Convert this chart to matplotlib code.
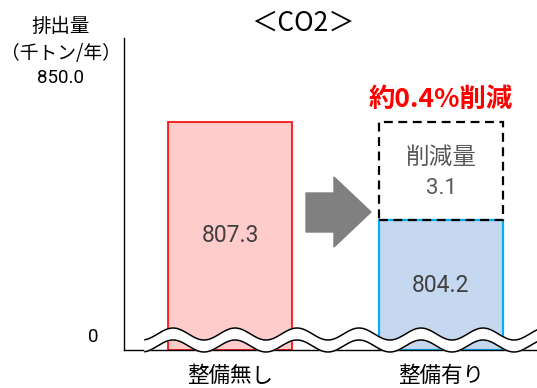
import numpy as np
import matplotlib
matplotlib.use('Agg')
import matplotlib.pyplot as plt
import matplotlib.transforms as mtransforms

plt.rcParams['font.family'] = ['Noto Sans CJK JP', 'DejaVu Sans']
NUM_FONT = ['Roboto', 'DejaVu Sans']

# Data
categories = ['整備無し', '整備有り']
emissions = [807.3, 804.2]
reduction = 3.1
reduction_label = '約0.4%削減'
y_top_label = 850.0

# Broken, schematic value axis (value -> screen units)
knot_vals = [0.0, 804.2, 807.3, 850.0, 888.8]
knot_pos = [0.0, 130.0, 228.0, 272.0, 312.0]


def fwd(v):
    return np.interp(v, knot_vals, knot_pos)


def inv(u):
    return np.interp(u, knot_pos, knot_vals)


def mid(lo, hi):
    return float(inv((fwd(lo) + fwd(hi)) / 2))


W, H = 537, 388
fig = plt.figure(figsize=(W / 100, H / 100), dpi=100)
ax = fig.add_axes([124 / W, 38 / H, 413 / W, 312 / H])
ax.set_yscale('function', functions=(fwd, inv))
ax.set_ylim(0, 888.8)
ax.set_xlim(-0.502, 1.455)

bw = 0.588
ax.bar(0, emissions[0], width=bw, color='#FFCCCC', edgecolor='#FF0000', linewidth=1.2, zorder=1)
ax.bar(1, emissions[1], width=bw, color='#C5D8EF', edgecolor='#00B0F0', linewidth=1.6, zorder=1)
ax.bar(1, reduction, bottom=emissions[1], width=bw, fill=False, edgecolor='black',
       linewidth=1.6, linestyle=(0, (4, 2.5)), zorder=2)

# value labels
ax.text(0, mid(0, emissions[0]), f'{emissions[0]:.1f}', ha='center', va='center',
        fontsize=16.5, color='#404040', family=NUM_FONT)
ax.text(1, mid(0, emissions[1]), f'{emissions[1]:.1f}', ha='center', va='center',
        fontsize=16.5, color='#404040', family=NUM_FONT)
m = mid(emissions[1], emissions[1] + reduction)
ax.annotate('削減量', xy=(1, m), xytext=(0, 14), textcoords='offset pixels',
            ha='center', va='center', fontsize=17, color='#595959')
ax.annotate(f'{reduction:.1f}', xy=(1, m), xytext=(0, -18), textcoords='offset pixels',
            ha='center', va='center', fontsize=16, color='#595959', family=NUM_FONT)
ax.annotate(reduction_label, xy=(1, emissions[1] + reduction), xytext=(0, 23),
            textcoords='offset pixels', ha='center', va='center', fontsize=19,
            fontweight='bold', color='#FF0000')

# y axis labels
trans = mtransforms.blended_transform_factory(ax.transAxes, ax.transData)
ax.annotate(f'{y_top_label:.1f}', xy=(0, y_top_label), xycoords=trans, xytext=(-63, 0),
            textcoords='offset pixels', ha='center', va='center', fontsize=13.5,
            family=NUM_FONT)
ax.annotate('（千トン/年）', xy=(0, y_top_label), xycoords=trans, xytext=(-63, 25),
            textcoords='offset pixels', ha='center', va='center', fontsize=13.5)
ax.annotate('排出量', xy=(0, y_top_label), xycoords=trans, xytext=(-63, 51),
            textcoords='offset pixels', ha='center', va='center', fontsize=14)
ax.annotate('0', xy=(0, 0), xycoords=trans, xytext=(-31, 13),
            textcoords='offset pixels', ha='center', va='center', fontsize=13.5,
            family=NUM_FONT)

ax.set_yticks([])
ax.set_xticks([0, 1], categories)
ax.tick_params(axis='x', length=0, pad=11, labelsize=15.5)
for s in ['top', 'right']:
    ax.spines[s].set_visible(False)
for s in ['left', 'bottom']:
    ax.spines[s].set_linewidth(1.0)
    ax.spines[s].set_color('black')


def fp(x, y):
    return x / W, 1 - y / H


# break symbol (wavy band)
xs = np.linspace(145, 537, 400)
up = 334 - 6 * np.cos(2 * np.pi * (xs - 173) / 62)
lo = up + 12
band_x = np.concatenate([xs, xs[::-1]]) / W
band_y = 1 - np.concatenate([up, lo[::-1]]) / H
ax.fill(band_x, band_y, color='white', transform=fig.transFigure, clip_on=False, zorder=3)
ax.plot(xs / W, 1 - up / H, color='black', lw=1.1, transform=fig.transFigure, clip_on=False, zorder=4)
ax.plot(xs / W, 1 - lo / H, color='black', lw=1.1, transform=fig.transFigure, clip_on=False, zorder=4)

# arrow
arrow_px = [(306, 193), (334, 193), (334, 177), (371, 212), (334, 247), (334, 232), (306, 232)]
ax.add_patch(plt.Polygon([fp(x, y) for x, y in arrow_px], closed=True, color='#808080',
                         transform=fig.transFigure, clip_on=False, zorder=2))

fig.text(303 / W, 1 - 23 / H, '＜CO2＞', ha='center', va='center', fontsize=19)

fig.savefig('out.png', dpi=100)
